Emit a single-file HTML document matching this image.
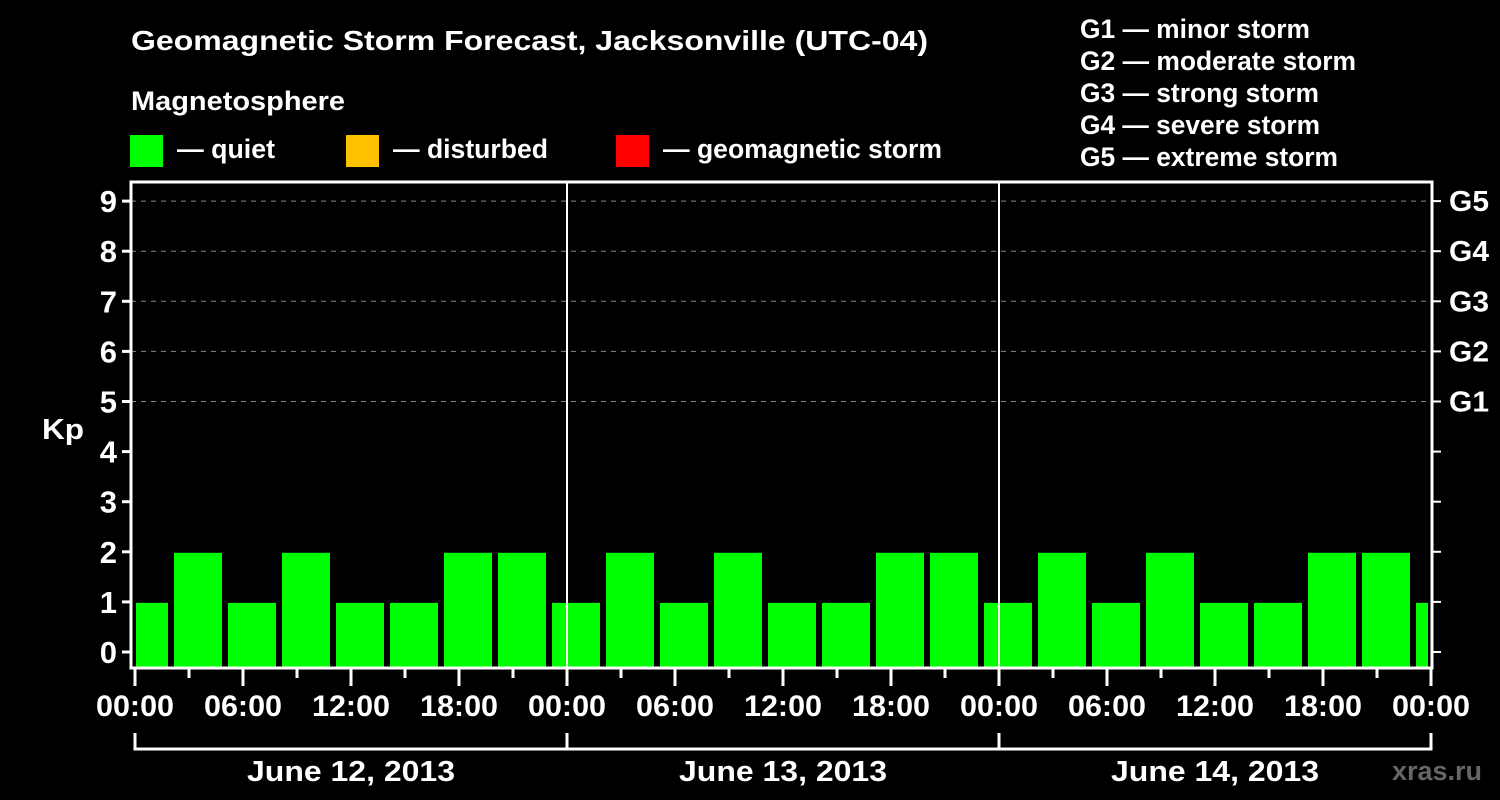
<!DOCTYPE html>
<html><head><meta charset="utf-8"><style>
html,body{margin:0;padding:0;background:#000;}
svg{display:block;font-family:"Liberation Sans",Arial,sans-serif;font-weight:bold;}
</style></head><body>
<svg id="chart" width="1500" height="800" viewBox="0 0 1500 800">
<rect width="1500" height="800" fill="#000"/>
<text x="131" y="50" fill="#fff" font-size="28" textLength="797" lengthAdjust="spacingAndGlyphs">Geomagnetic Storm Forecast, Jacksonville (UTC-04)</text>
<text x="131" y="110" fill="#fff" font-size="27" textLength="214" lengthAdjust="spacingAndGlyphs">Magnetosphere</text>
<g><rect x="130" y="135" width="33" height="32" fill="#00ff00"/><text x="177" y="158" fill="#fff" font-size="27" textLength="98" lengthAdjust="spacingAndGlyphs">— quiet</text></g>
<g><rect x="346" y="135" width="33" height="32" fill="#ffc000"/><text x="393" y="158" fill="#fff" font-size="27" textLength="155" lengthAdjust="spacingAndGlyphs">— disturbed</text></g>
<g><rect x="616" y="135" width="33" height="32" fill="#ff0000"/><text x="663" y="158" fill="#fff" font-size="27" textLength="279" lengthAdjust="spacingAndGlyphs">— geomagnetic storm</text></g>
<g fill="#fff" font-size="27" lengthAdjust="spacingAndGlyphs">
<text x="1080" y="38" textLength="230" lengthAdjust="spacingAndGlyphs">G1 — minor storm</text>
<text x="1080" y="70" textLength="276" lengthAdjust="spacingAndGlyphs">G2 — moderate storm</text>
<text x="1080" y="102" textLength="239" lengthAdjust="spacingAndGlyphs">G3 — strong storm</text>
<text x="1080" y="134" textLength="240" lengthAdjust="spacingAndGlyphs">G4 — severe storm</text>
<text x="1080" y="166" textLength="258" lengthAdjust="spacingAndGlyphs">G5 — extreme storm</text>
</g>
<text x="42" y="439" fill="#fff" font-size="29" textLength="42" lengthAdjust="spacingAndGlyphs">Kp</text>
<g id="grid"></g>
<g id="bars"></g>
<g id="axes"></g>
<text x="1482" y="780" fill="#666" font-size="27" text-anchor="end">xras.ru</text>
</svg>
<script>
const kpValues = [1,2,1,2,1,1,2,2, 1,2,1,2,1,1,2,2, 1,2,1,2,1,1,2,2, 1];
const barStartHours = [-1,2,5,8,11,14,17,20, 23,26,29,32,35,38,41,44, 47,50,53,56,59,62,65,68, 71];
const yTicks = [0,1,2,3,4,5,6,7,8,9];
const gLabels = ["G1","G2","G3","G4","G5"];
const gLevels = [5,6,7,8,9];
const xTickLabels = ["00:00","06:00","12:00","18:00","00:00","06:00","12:00","18:00","00:00","06:00","12:00","18:00","00:00"];
const dayLabels = ["June 12, 2013","June 13, 2013","June 14, 2013"];

const NS="http://www.w3.org/2000/svg";
const X0=135, PX_H=18, Y0=652, PX_K=50.1;
const L=131, R=1432, T=182, B=668, CLIPR=1428;
const xs=h=>X0+h*PX_H, ys=k=>Y0-k*PX_K;
function mk(tag,attrs,parent){const e=document.createElementNS(NS,tag);for(const k in attrs)e.setAttribute(k,attrs[k]);parent.appendChild(e);return e;}
const grid=document.getElementById('grid'), bars=document.getElementById('bars'), axes=document.getElementById('axes');

yTicks.forEach(k=>{
  if(k>=5){const l=mk('line',{x1:L,x2:R,y1:ys(k),y2:ys(k),stroke:'#888','stroke-width':1,'stroke-dasharray':'5,5'},grid);
  
  }
  const t=mk('line',{x1:L-9,x2:L,y1:ys(k),y2:ys(k),stroke:'#fff','stroke-width':3},axes);
  
  
  const t2=mk('line',{x1:R,x2:R+9,y1:ys(k),y2:ys(k),stroke:'#fff','stroke-width':2},axes);
  
  
  const lb=mk('text',{x:L-14,y:ys(k)+11,fill:'#fff','font-size':31,'text-anchor':'end'},axes);
  lb.textContent=k;
  
  
});
gLabels.forEach((g,i)=>{
  const lb=mk('text',{x:R+17,y:ys(gLevels[i])+10,fill:'#fff','font-size':29,textLength:40,lengthAdjust:'spacingAndGlyphs'},axes);
  lb.textContent=g;
  
  
});
kpValues.forEach((v,i)=>{
  const h=barStartHours[i];
  let x1=xs(h)+3, x2=xs(h+3)-3;
  x1=Math.max(x1,X0+1); x2=Math.min(x2,CLIPR);
  const c=v>=5?'#ff0000':(v>=4?'#ffc000':'#00ff00');
  const r=mk('rect',{x:x1,y:ys(v)+1,width:x2-x1,height:B-1-(ys(v)+1),fill:c},bars);
  
  
});
const f=mk('rect',{x:L,y:T,width:R-L,height:B-T,fill:'none',stroke:'#fff','stroke-width':3},axes);


[1,2].forEach(d=>{
  const l=mk('line',{x1:xs(24*d),x2:xs(24*d),y1:T,y2:B,stroke:'#fff','stroke-width':2},axes);
  
  
});
for(let h=0;h<=72;h+=3){
  const major=h%6===0;
  const l=mk('line',{x1:xs(h),x2:xs(h),y1:B,y2:major?B+18:B+10,stroke:'#fff','stroke-width':3},axes);
  
  
}
xTickLabels.forEach((s,i)=>{
  const t=mk('text',{x:xs(i*6)-39,y:716,fill:'#fff','font-size':30,textLength:78,lengthAdjust:'spacingAndGlyphs'},axes);
  t.textContent=s;
  
  
});
const br=mk('path',{d:`M${xs(0)} 733 V749 H${xs(72)} V733 M${xs(24)} 733 V749 M${xs(48)} 733 V749`,stroke:'#fff','stroke-width':3,fill:'none'},axes);


dayLabels.forEach((s,i)=>{
  const t=mk('text',{x:xs(24*i+12)-104,y:781,fill:'#fff','font-size':29,textLength:208,lengthAdjust:'spacingAndGlyphs'},axes);
  t.textContent=s;
  
  
});
</script>
</body></html>
